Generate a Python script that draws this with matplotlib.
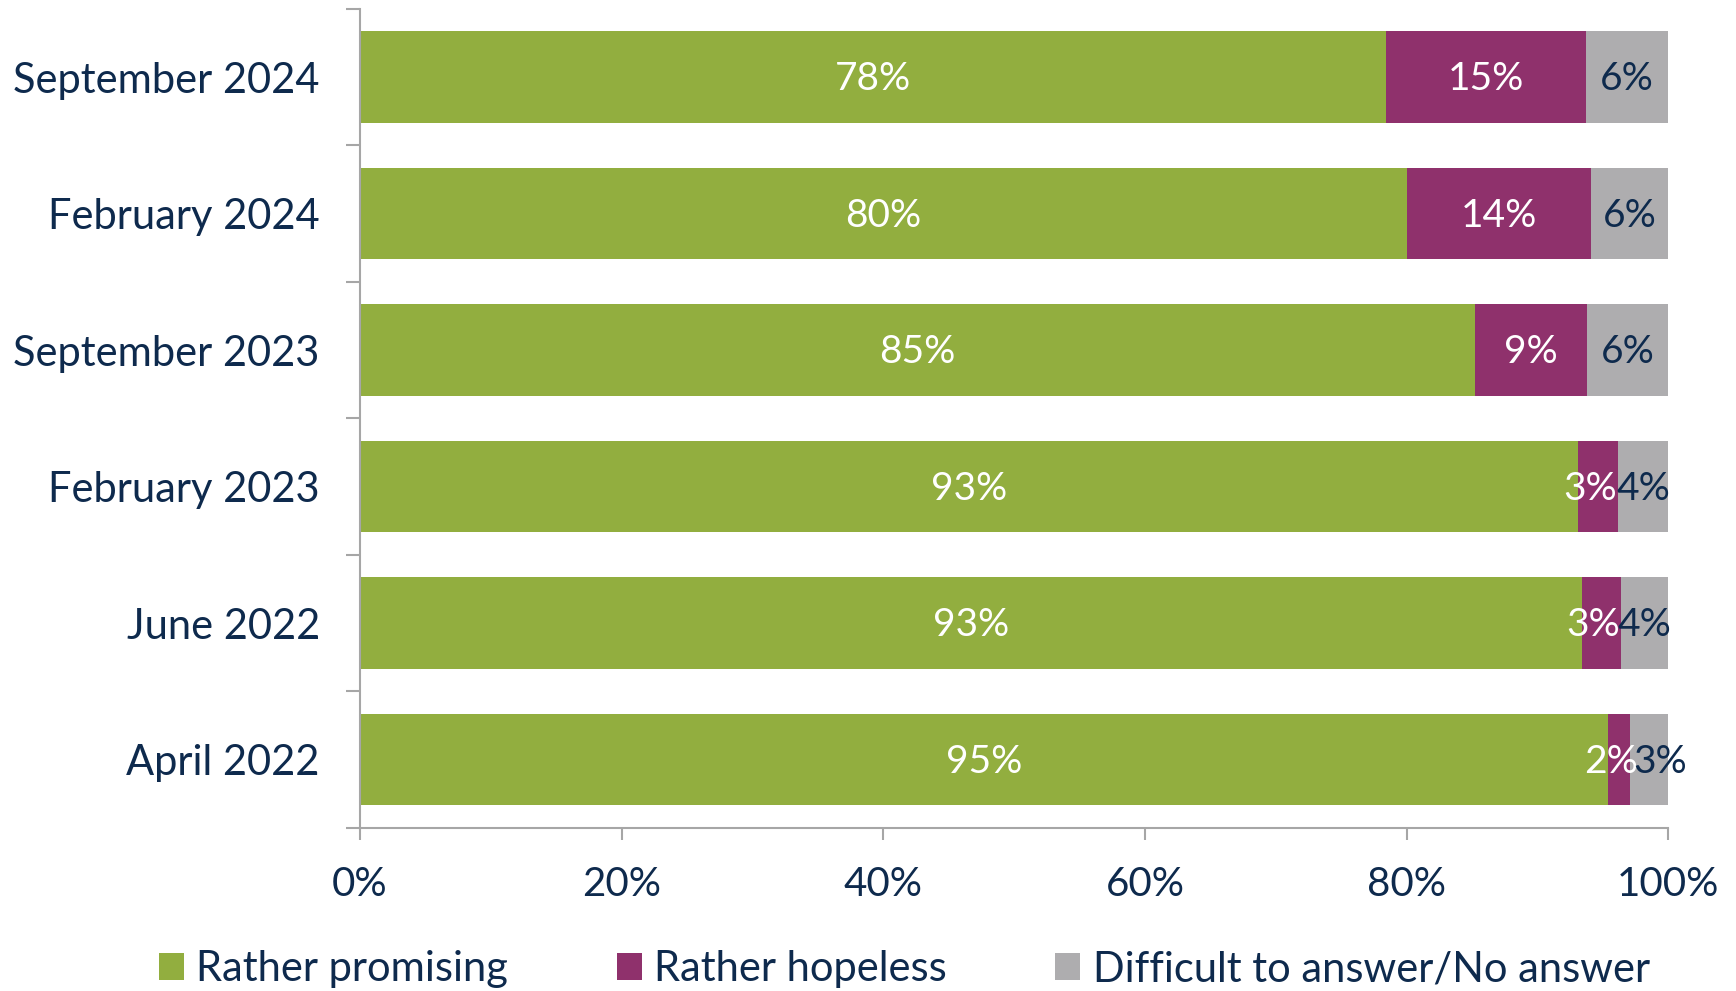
import matplotlib
matplotlib.use("Agg")
import matplotlib.pyplot as plt
from matplotlib.ticker import FixedLocator, PercentFormatter
from matplotlib.patches import Patch

# survey waves, top to bottom
waves = ['September 2024', 'February 2024', 'September 2023',
         'February 2023', 'June 2022', 'April 2022']
promising = [78.4, 80.0, 85.2, 93.1, 93.4, 95.4]
hopeless = [15.3, 14.1, 8.6, 3.1, 3.0, 1.7]
no_answer = [6.3, 5.9, 6.2, 3.8, 3.6, 2.9]

series_names = ['Rather promising', 'Rather hopeless', 'Difficult to answer/No answer']
colors = ['#92AE3F', '#8F316C', '#AEADAF']
label_colors = ['white', 'white', '#0E2A4D']
navy = '#0E2A4D'

plt.rcParams['font.family'] = ['Lato', 'DejaVu Sans']

fig = plt.figure(figsize=(17.36, 9.91), dpi=100)
ax = fig.add_axes([0.2074, 0.1645, 0.7535, 0.8265])

ypos = list(range(len(waves)))[::-1]
left = [0.0] * len(waves)
for k, (vals, name, col, lcol) in enumerate(zip([promising, hopeless, no_answer], series_names,
                                                colors, label_colors)):
    bars = ax.barh(ypos, vals, left=left, height=0.67, color=col, label=name)
    for b, v in zip(bars, vals):
        cx = b.get_x() + b.get_width() / 2
        cy = b.get_y() + b.get_height() / 2
        # nudge labels apart where the segments are too narrow
        dx = 0
        if k == 1 and v < 5:
            dx = -6
        elif k == 2 and v < 3.5:
            dx = 8
        ax.annotate(f'{v:.0f}%', (cx, cy), xytext=(dx, -1.5), textcoords='offset points',
                    ha='center', va='center', color=lcol, fontsize=28)
    left = [l + v for l, v in zip(left, vals)]

ax.set_xlim(0, 100)
ax.set_ylim(-0.5, len(waves) - 0.5)
ax.set_xticks([0, 20, 40, 60, 80, 100])
ax.xaxis.set_major_formatter(PercentFormatter(decimals=0))
ax.set_yticks(ypos)
ax.set_yticklabels(waves)
ax.yaxis.set_minor_locator(FixedLocator([i - 0.5 for i in range(len(waves) + 1)]))

for s in ['top', 'right']:
    ax.spines[s].set_visible(False)
for s in ['left', 'bottom']:
    ax.spines[s].set_color('#A6A6A6')
    ax.spines[s].set_linewidth(1.5)

ax.tick_params(axis='y', which='major', length=0, pad=29, labelsize=30, labelcolor=navy)
ax.tick_params(axis='y', which='minor', length=10, width=1.5, color='#A6A6A6')
ax.tick_params(axis='x', length=8.5, width=1.5, color='#A6A6A6', pad=19, labelsize=29, labelcolor=navy)

handles = [Patch(facecolor=c) for c in colors]
leg = fig.legend(handles, series_names, loc='center', bbox_to_anchor=(0.521, 0.022), ncol=3,
                 frameon=False, fontsize=30, handlelength=0.6, handleheight=0.6,
                 handletextpad=0.3, columnspacing=2.6, labelcolor=navy)

fig.savefig('out.png', dpi=100)
